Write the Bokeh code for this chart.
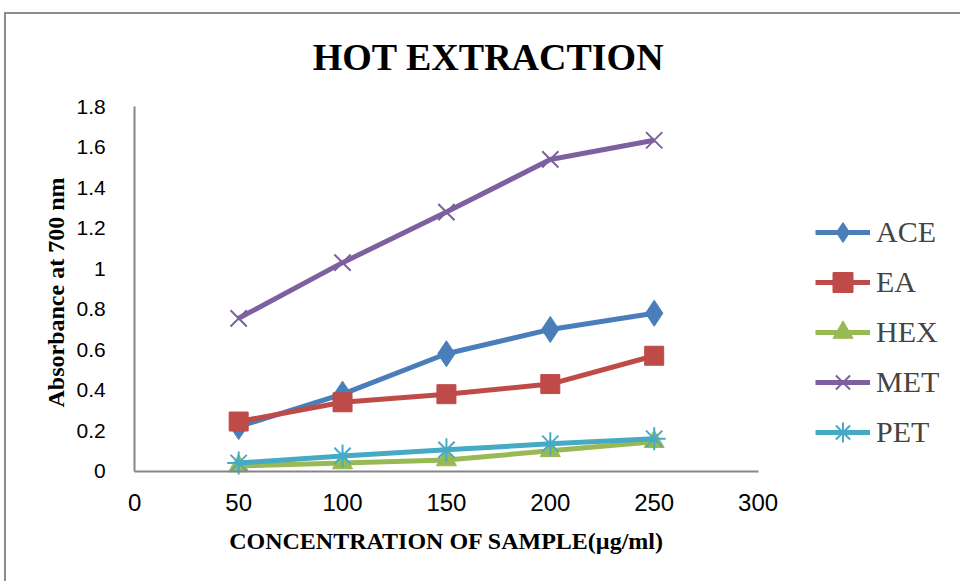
import math
from bokeh.plotting import figure
from bokeh.models import Legend, LegendItem, FixedTicker, Range1d, Label
from bokeh.embed import file_html
from bokeh.resources import INLINE

# ---- data ----
concentration = [50, 100, 150, 200, 250]
ace = [0.22, 0.38, 0.58, 0.70, 0.78]
ea = [0.245, 0.34, 0.38, 0.43, 0.57]
hex_ = [0.025, 0.04, 0.055, 0.10, 0.145]
met = [0.755, 1.03, 1.28, 1.54, 1.635]
pet = [0.04, 0.075, 0.105, 0.135, 0.16]
series_names = ["ACE", "EA", "HEX", "MET", "PET"]
x_ticks = [0, 50, 100, 150, 200, 250, 300]
y_ticks = [0, 0.2, 0.4, 0.6, 0.8, 1, 1.2, 1.4, 1.6, 1.8]
y_tick_labels = ["0", "0.2", "0.4", "0.6", "0.8", "1", "1.2", "1.4", "1.6", "1.8"]
x_axis_span = (0, 300)
y_axis_span = (0, 1.8)
title_text = "HOT EXTRACTION"
x_title = "CONCENTRATION OF SAMPLE(µg/ml)"
y_title = "Absorbance at 700 nm"

colors = ["#4a7ebb", "#be4b48", "#98b954", "#7d60a0", "#46aac5"]
markers = ["diamond", "square", "triangle", "x", "asterisk"]
sizes = [26, 19, 20, 23, 23]

# The frame covers the whole canvas; axes are pinned at 0 and bounded to the data spans,
# so that titles and legend (inside the frame) are not clipped.
p = figure(width=956, height=569, output_backend="svg", toolbar_location=None,
           x_range=Range1d(-61.74, 398.39), y_range=Range1d(-0.5554, 2.2562),
           min_border_left=0, min_border_right=0, min_border_top=0, min_border_bottom=0)
p.margin = (12, 0, 0, 4)
p.styles = {"border-left": "2px solid #8c8c8c", "border-top": "2px solid #8c8c8c"}
p.outline_line_color = None
p.xgrid.grid_line_color = None
p.ygrid.grid_line_color = None

for ax in (p.xaxis[0], p.yaxis[0]):
    ax.fixed_location = 0
    ax.axis_line_color = "#868686"
    ax.axis_line_width = 2
    ax.major_tick_line_color = None
    ax.minor_tick_line_color = None
    ax.major_tick_out = 0
    ax.major_tick_in = 0
    ax.major_label_text_color = "black"
p.xaxis.bounds = x_axis_span
p.yaxis.bounds = y_axis_span

p.xaxis.ticker = FixedTicker(ticks=x_ticks)
p.yaxis.ticker = FixedTicker(ticks=y_ticks)
p.yaxis.major_label_overrides = {t: l for t, l in zip(y_ticks, y_tick_labels)}

p.xaxis.major_label_text_font = "Liberation Sans"
p.xaxis.major_label_text_font_size = "24px"
p.xaxis.major_label_standoff = 23
p.yaxis.major_label_text_font = "Liberation Sans"
p.yaxis.major_label_text_font_size = "21px"
p.yaxis.major_label_standoff = 29

items = []
for name, vals, c, m, s in zip(series_names, [ace, ea, hex_, met, pet], colors, markers, sizes):
    r1 = p.line(concentration, vals, line_color=c, line_width=5)
    if m in ("x", "asterisk"):
        r2 = p.scatter(concentration, vals, marker=m, size=s, line_color=c, line_width=2)
    else:
        r2 = p.scatter(concentration, vals, marker=m, size=s, fill_color=c, line_color=c)
    items.append(LegendItem(label=name, renderers=[r1, r2]))

legend = Legend(items=items, location=(809, 126), orientation="vertical",
                glyph_width=55, glyph_height=50, label_height=50, spacing=0,
                padding=0, margin=0, label_standoff=6,
                label_text_font="Liberation Serif", label_text_font_size="30px",
                border_line_color=None, background_fill_alpha=0)
p.add_layout(legend, "center")

p.add_layout(Label(x=482, y=527, x_units="screen", y_units="screen", text=title_text,
                   text_align="center", text_baseline="middle", text_font="Liberation Serif",
                   text_font_style="bold", text_font_size="38px", text_color="black"))
p.add_layout(Label(x=440, y=43, x_units="screen", y_units="screen", text=x_title,
                   text_align="center", text_baseline="middle", text_font="Liberation Serif",
                   text_font_style="bold", text_font_size="24px", text_color="black"))
p.add_layout(Label(x=49, y=291, x_units="screen", y_units="screen", text=y_title,
                   angle=math.pi / 2, text_align="center", text_baseline="middle",
                   text_font="Liberation Serif", text_font_style="bold",
                   text_font_size="24px", text_color="black"))

open("out.html", "w").write(file_html(p, INLINE))
